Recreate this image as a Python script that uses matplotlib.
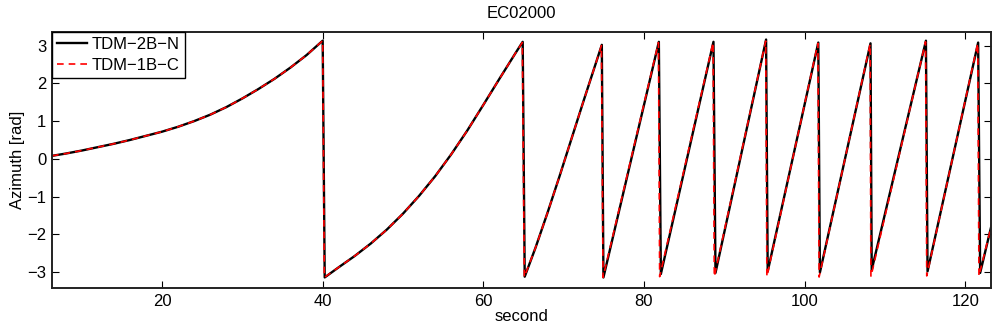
import matplotlib
matplotlib.use("Agg")
import matplotlib.pyplot as plt

plt.rcParams['font.family'] = ['Liberation Sans', 'DejaVu Sans']

# TDM-2B-N (black, solid)
t_black = [6.3, 8, 10, 12, 14, 16, 18, 20, 22, 24, 26, 28, 30, 32, 34, 36, 38, 40.0,
           40.25, 42, 44, 46, 48, 50, 52, 54, 56, 58, 60, 62, 64, 64.9,
           65.15, 66.5, 68, 69.5, 71, 72.5, 74, 74.75,
           74.95, 81.85,
           82.1, 88.65,
           88.9, 95.2,
           95.4, 101.7,
           101.9, 108.2,
           108.35, 115.1,
           115.3, 121.6,
           121.85, 123.5]
az_black = [0.08, 0.14, 0.22, 0.31, 0.40, 0.50, 0.61, 0.72, 0.85, 1.00, 1.17, 1.37, 1.60, 1.85, 2.12, 2.42, 2.75, 3.13,
            -3.14, -2.87, -2.57, -2.24, -1.87, -1.45, -0.98, -0.46, 0.12, 0.75, 1.43, 2.12, 2.80, 3.10,
            -3.12, -2.35, -1.42, -0.45, 0.55, 1.55, 2.53, 3.02,
            -3.14, 3.10,
            -3.05, 3.10,
            -3.02, 3.16,
            -2.98, 3.08,
            -3.01, 3.06,
            -2.94, 3.13,
            -2.98, 3.08,
            -3.02, -1.55]

# TDM-1B-C (red, dashed)
t_red = [6.3, 8, 10, 12, 14, 16, 18, 20, 22, 24, 26, 28, 30, 32, 34, 36, 38, 40.0,
         40.2, 42, 44, 46, 48, 50, 52, 54, 56, 58, 60, 62, 64, 64.85,
         65.1, 66.5, 68, 69.5, 71, 72.5, 74, 74.7,
         74.9, 81.8,
         81.95, 88.6,
         88.75, 95.15,
         95.3, 101.65,
         101.8, 108.15,
         108.25, 115.05,
         115.2, 121.55,
         121.7, 123.5]
az_red = [0.08, 0.14, 0.22, 0.31, 0.40, 0.50, 0.61, 0.72, 0.85, 1.00, 1.17, 1.37, 1.60, 1.85, 2.12, 2.42, 2.75, 3.13,
          -3.14, -2.87, -2.57, -2.24, -1.87, -1.45, -0.98, -0.46, 0.12, 0.75, 1.43, 2.12, 2.80, 3.08,
          -3.13, -2.35, -1.42, -0.45, 0.55, 1.55, 2.53, 3.00,
          -3.14, 3.08,
          -3.12, 3.08,
          -3.12, 3.12,
          -3.12, 3.06,
          -3.13, 3.04,
          -3.12, 3.10,
          -3.10, 3.06,
          -3.10, -1.55]

xticks = [20, 40, 60, 80, 100, 120]
yticks = [-3, -2, -1, 0, 1, 2, 3]

fig = plt.figure(figsize=(9.93, 3.34), dpi=100)
ax = fig.add_axes([52/993, 1 - 288/334, (991 - 52)/993, (288 - 32)/334])

ax.plot(t_black, az_black, color='black', lw=1.7, label='TDM\u22122B\u2212N')
ax.plot(t_red, az_red, color='red', lw=1.2, ls=(0, (4, 3)), label='TDM\u22121B\u2212C')

ax.set_xlim(6.3, 123.2)
ax.set_ylim(-3.42, 3.36)
ax.set_xticks(xticks)
ax.set_yticks(yticks)
ax.set_yticklabels([str(v).replace('-', '\u2212') for v in yticks])
ax.tick_params(direction='in', top=True, right=True, length=5, width=0.8,
               labelsize=12, pad=4)
for s in ax.spines.values():
    s.set_linewidth(1.4)
    s.set_color('#222222')

ax.set_xlabel('second', fontsize=12, labelpad=0)
ax.set_ylabel('Azimuth [rad]', fontsize=12, labelpad=2)
ax.set_title('EC02000', fontsize=12, pad=10)

leg = ax.legend(loc='upper left', fontsize=12, frameon=True, fancybox=False,
                borderaxespad=0.0, handlelength=1.8, borderpad=0.3,
                labelspacing=0.35, handletextpad=0.3)
leg.get_frame().set_edgecolor('black')
leg.get_frame().set_linewidth(1.0)
leg.get_frame().set_alpha(1)

fig.savefig('out.png', dpi=100)
